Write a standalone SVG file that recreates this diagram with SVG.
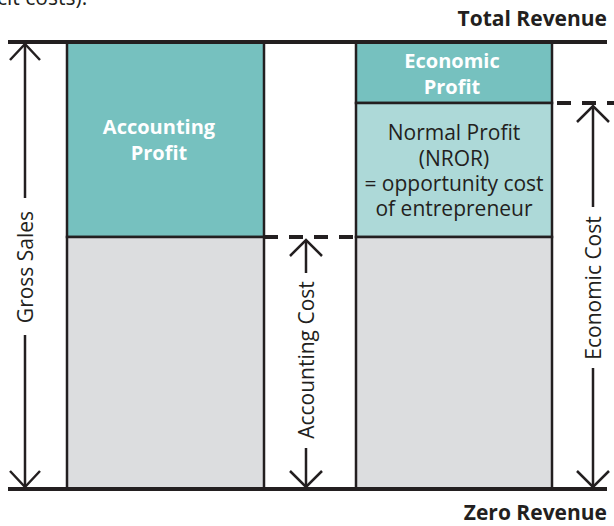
<svg xmlns="http://www.w3.org/2000/svg" width="614" height="526" viewBox="0 0 614 526">
<style>
  .lbl { font-family: "Open Sans", "Noto Sans", sans-serif; font-size: 21px; fill: #231F20; }
  .bold { font-weight: bold; }
  .wht { fill: #FFFFFF; font-weight: bold; font-size: 20px; }
  .box { stroke: #231F20; stroke-width: 2.5; }
  .teal { fill: #76C1BF; }
  .lteal { fill: #ADD9D8; }
  .gray { fill: #DCDDDF; }
  .ln { stroke: #231F20; stroke-width: 2.5; fill: none; }
  .dash { stroke: #231F20; stroke-width: 4; stroke-dasharray: 14 11; fill: none; }
  .base { stroke: #231F20; stroke-width: 4; }
</style>
<rect width="614" height="526" fill="#FFFFFF"/>
<text class="lbl" x="-3" y="5" font-size="19">cit costs).</text>

<g id="accounting-column">
  <rect class="teal box" x="67" y="42" width="197" height="195"/>
  <rect class="gray box" x="67" y="237" width="197" height="252"/>
  <text class="lbl wht" x="159" y="134" text-anchor="middle">Accounting</text>
  <text class="lbl wht" x="159" y="160" text-anchor="middle">Profit</text>
</g>

<g id="economic-column">
  <rect class="teal box" x="356" y="42" width="196" height="61"/>
  <rect class="lteal box" x="356" y="103" width="196" height="134"/>
  <rect class="gray box" x="356" y="237" width="196" height="252"/>
  <text class="lbl wht" x="452" y="68" text-anchor="middle">Economic</text>
  <text class="lbl wht" x="452" y="94" text-anchor="middle">Profit</text>
  <text class="lbl" x="454" y="140" text-anchor="middle">Normal Profit</text>
  <text class="lbl" x="454" y="166" text-anchor="middle">(NROR)</text>
  <text class="lbl" x="454" y="191" text-anchor="middle">= opportunity cost</text>
  <text class="lbl" x="454" y="216" text-anchor="middle">of entrepreneur</text>
</g>

<g id="baselines">
  <line class="base" x1="8" y1="42" x2="607" y2="42"/>
  <line class="base" x1="8" y1="489" x2="607" y2="489"/>
  <text class="lbl bold" x="607" y="26" text-anchor="end">Total Revenue</text>
  <text class="lbl bold" x="607" y="520" text-anchor="end">Zero Revenue</text>
</g>

<g id="connectors">
  <line class="dash" x1="264" y1="237" x2="356" y2="237"/>
  <line class="dash" x1="557" y1="103" x2="614" y2="103"/>

  <g id="gross-sales">
    <line class="ln" x1="25" y1="44" x2="25" y2="198"/>
    <line class="ln" x1="25" y1="335" x2="25" y2="487"/>
    <polyline class="ln" points="10,60 25,44 40,60"/>
    <polyline class="ln" points="10,471 25,487 40,471"/>
    <text class="lbl" font-size="20" transform="translate(33,267) rotate(-90)" text-anchor="middle">Gross Sales</text>
  </g>

  <g id="accounting-cost">
    <line class="ln" x1="306" y1="240" x2="306" y2="273"/>
    <line class="ln" x1="306" y1="448" x2="306" y2="487"/>
    <polyline class="ln" points="290,256 306,240 322,256"/>
    <polyline class="ln" points="290,471 306,487 322,471"/>
    <text class="lbl" transform="translate(314,360) rotate(-90)" text-anchor="middle">Accounting Cost</text>
  </g>

  <g id="economic-cost">
    <line class="ln" x1="593" y1="106" x2="593" y2="207"/>
    <line class="ln" x1="593" y1="368" x2="593" y2="487"/>
    <polyline class="ln" points="577,122 593,106 609,122"/>
    <polyline class="ln" points="577,471 593,487 609,471"/>
    <text class="lbl" transform="translate(601,288) rotate(-90)" text-anchor="middle">Economic Cost</text>
  </g>
</g>
</svg>
